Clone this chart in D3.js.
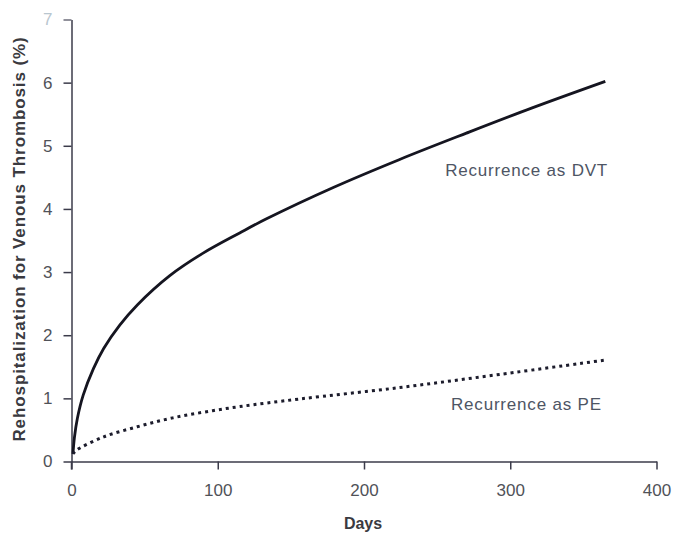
<!DOCTYPE html>
<html>
<head>
<meta charset="utf-8">
<script src="https://cdn.jsdelivr.net/npm/d3@7"></script>
<style>
  html, body { margin: 0; padding: 0; background: #fff; }
  svg { display: block; }
</style>
</head>
<body>
<div id="chart"></div>
<script>
// ---- data ----
const xTicks = [0, 100, 200, 300, 400];
const yTicks = [0, 1, 2, 3, 4, 5, 6, 7];

const dvtDays  = [1, 2, 4, 8, 15, 22, 33, 45, 67, 90, 115, 133, 179, 224, 270, 315, 365];
const dvtRates = [0.12, 0.38, 0.68, 1.05, 1.47, 1.79, 2.16, 2.48, 2.94, 3.30, 3.62, 3.84, 4.34, 4.78, 5.20, 5.60, 6.02];

const peDays  = [1, 3.5, 22, 45, 67, 90, 115, 156, 224, 293, 366];
const peRates = [0.12, 0.18, 0.39, 0.55, 0.68, 0.78, 0.87, 0.99, 1.17, 1.38, 1.61];

const xTitle = "Days";
const yTitle = "Rehospitalization for Venous Thrombosis (%)";
const labels = [
  { text: "Recurrence as DVT", day: 255.5, value: 4.52 },
  { text: "Recurrence as PE",  day: 259.5, value: 0.815 }
];

// ---- layout ----
const W = 673, H = 534;
const svg = d3.select("#chart").append("svg").attr("width", W).attr("height", H);

const x = d3.scaleLinear().domain([0, 400]).range([71.5, 656.5]);
const y = d3.scaleLinear().domain([0, 7]).range([461.5, 19.5]);

const axisColor = "#3b3b4a";
const tickText = "#505258";
const fontFam = "'Liberation Sans', Arial, Helvetica, sans-serif";

// x axis
const gx = svg.append("g").attr("transform", `translate(0,${y(0)})`)
  .call(d3.axisBottom(x).tickValues(xTicks).tickFormat(d3.format("d"))
    .tickSize(8).tickPadding(14).tickSizeOuter(0));
// y axis
const gy = svg.append("g").attr("transform", `translate(${x(0)},0)`)
  .call(d3.axisLeft(y).tickValues(yTicks).tickFormat(d3.format("d"))
    .tickSize(8).tickPadding(11).tickSizeOuter(0));

[gx, gy].forEach(g => {
  g.select(".domain").attr("stroke", axisColor).attr("stroke-width", 1.5);
  g.selectAll(".tick line").attr("stroke", axisColor).attr("stroke-width", 1.5);
  g.selectAll(".tick text")
    .attr("fill", tickText)
    .style("font-family", fontFam)
    .style("font-size", "17px");
});
// faint "7" at top as in print
gy.selectAll(".tick").filter(d => d === 7).select("text").attr("fill", "#b9c6cf");
gy.selectAll(".tick").filter(d => d === 7).select("line").attr("stroke", "#6d6d7a");
// y axis extends slightly below x axis at origin
svg.append("line")
  .attr("x1", x(0)).attr("x2", x(0))
  .attr("y1", y(0)).attr("y2", y(0) + 8)
  .attr("stroke", axisColor).attr("stroke-width", 1.5);

// axis titles
svg.append("text")
  .attr("x", 363)
  .attr("y", 529)
  .attr("text-anchor", "middle")
  .attr("fill", "#3a3a40")
  .style("font-family", fontFam)
  .style("font-size", "16px").style("font-weight", "bold")
  .text(xTitle);

svg.append("text")
  .attr("transform", `translate(25,${239}) rotate(-90)`)
  .attr("text-anchor", "middle")
  .attr("fill", "#3a3a40")
  .style("font-family", fontFam)
  .style("font-size", "17px").style("font-weight", "bold")
  .style("letter-spacing", "0.9px")
  .text(yTitle);

// lines
const line = d3.line().x(d => x(d[0])).y(d => y(d[1])).curve(d3.curveCatmullRom.alpha(0.5));

svg.append("path")
  .datum(dvtDays.map((d, i) => [d, dvtRates[i]]))
  .attr("d", line)
  .attr("fill", "none")
  .attr("stroke", "#151520")
  .attr("stroke-width", 2.8);

svg.append("path")
  .datum(peDays.map((d, i) => [d, peRates[i]]))
  .attr("d", line)
  .attr("fill", "none")
  .attr("stroke", "#1c1c2c")
  .attr("stroke-width", 3)
  .attr("stroke-dasharray", "3 4");

// labels
svg.selectAll("text.lbl").data(labels).enter().append("text")
  .attr("class", "lbl")
  .attr("x", d => x(d.day))
  .attr("y", d => y(d.value))
  .attr("fill", "#4e5564")
  .style("font-family", fontFam)
  .style("font-size", "17px")
  .style("letter-spacing", "0.8px")
  .text(d => d.text);
</script>
</body>
</html>
